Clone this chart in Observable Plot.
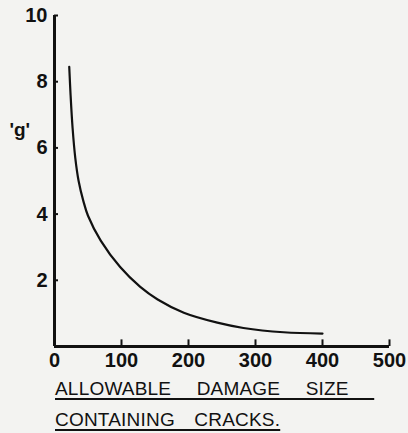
<!DOCTYPE html>
<html>
<head>
<meta charset="utf-8">
<script src="https://cdn.jsdelivr.net/npm/d3@7"></script>
<script src="https://cdn.jsdelivr.net/npm/@observablehq/plot@0.6"></script>
<style>
  html, body { margin: 0; padding: 0; background: #f3f3f1; }
  body { width: 408px; height: 433px; overflow: hidden; position: relative; font-family: "Liberation Sans", Arial, sans-serif; }
  #chart { position: absolute; left: 0; top: 0; }
  #chart svg text { font-weight: 600; }
  .cap { position: absolute; left: 55px; font-size: 19px; font-weight: 500; color: #111; letter-spacing: 0.2px; word-spacing: 20px; white-space: pre;
         text-decoration: underline; text-decoration-thickness: 2px; text-underline-offset: 3px; }
</style>
</head>
<body>
<div id="chart"></div>
<span class="cap" id="cap1" style="top:378px"></span>
<span class="cap" id="cap2" style="top:409px; word-spacing: 14px"></span>
<script>
// Data
const damageSize = [22, 24, 27, 31, 36, 43, 50, 69, 98, 128, 154, 193, 243, 282, 342, 400];
const gValue     = [8.45, 7.6, 6.6, 5.7, 5.0, 4.4, 3.95, 3.2, 2.4, 1.8, 1.42, 1.02, 0.72, 0.56, 0.43, 0.39];
const xTicks = [0, 100, 200, 300, 400, 500];
const yTicks = [2, 4, 6, 8, 10];
const yLabel = "'g'";
const captionLines = ["ALLOWABLE DAMAGE SIZE ", "CONTAINING CRACKS."];

const curve = damageSize.map((x, i) => ({x, y: gValue[i]}));

const plot = Plot.plot({
  width: 408,
  height: 372,
  marginLeft: 54,
  marginRight: 19,
  marginTop: 15,
  marginBottom: 26,
  style: {background: "transparent", fontFamily: "Liberation Sans, Arial, sans-serif", color: "#111"},
  x: {domain: [0, 500], label: null},
  y: {domain: [0, 10], label: null},
  marks: [
    Plot.axisX({ticks: xTicks, tickSize: 0, tickPadding: 6, fontSize: 20, tickFormat: d => d, label: null}),
    Plot.axisY({ticks: yTicks, tickSize: 0, tickPadding: 7, fontSize: 20, tickFormat: d => d, label: null}),
    Plot.ruleY([0], {x1: 0, x2: 500, stroke: "#111", strokeWidth: 3}),
    Plot.ruleX([0], {y1: 0, y2: 10, stroke: "#111", strokeWidth: 3}),
    Plot.ruleX(xTicks.slice(1), {y1: 0, y2: 0.2, stroke: "#111", strokeWidth: 2}),
    Plot.ruleY(yTicks, {x1: 0, x2: 6, stroke: "#111", strokeWidth: 2}),
    Plot.line(curve, {x: "x", y: "y", curve: "catmull-rom", stroke: "#111", strokeWidth: 2.2}),
    Plot.text([yLabel], {frameAnchor: "left", dx: -45, y: 6.55, text: d => d, fontSize: 19, fill: "#111"})
  ]
});
document.getElementById("chart").appendChild(plot);
document.getElementById("cap1").textContent = captionLines[0];
document.getElementById("cap2").textContent = captionLines[1];
</script>
</body>
</html>
